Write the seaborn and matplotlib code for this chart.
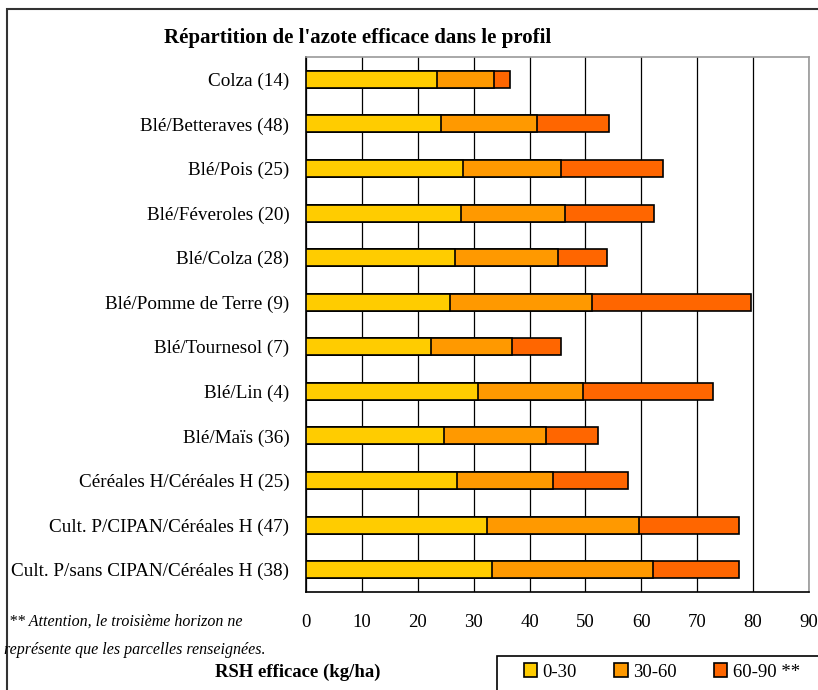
import seaborn as sns
import matplotlib.pyplot as plt
import matplotlib.patches as mpatches
import pandas as pd

cultures = ["Colza (14)", "Blé/Betteraves (48)", "Blé/Pois (25)", "Blé/Féveroles (20)",
            "Blé/Colza (28)", "Blé/Pomme de Terre (9)", "Blé/Tournesol (7)", "Blé/Lin (4)",
            "Blé/Maïs (36)", "Céréales H/Céréales H (25)", "Cult. P/CIPAN/Céréales H (47)",
            "Cult. P/sans CIPAN/Céréales H (38)"]
h0_30 = [23.5, 24.2, 28.1, 27.8, 26.6, 25.7, 22.3, 30.8, 24.7, 27.1, 32.3, 33.2]
h30_60 = [10.1, 17.2, 17.5, 18.5, 18.5, 25.4, 14.5, 18.8, 18.2, 17.1, 27.3, 28.8]
h60_90 = [2.9, 12.8, 18.2, 16.0, 8.7, 28.5, 8.8, 23.3, 9.4, 13.4, 17.9, 15.5]
horizons = ["0-30", "30-60", "60-90 **"]
couleurs = ["#FFCC00", "#FF9900", "#FF6600"]

df = pd.DataFrame({"culture": cultures, "h1": h0_30, "h2": h30_60, "h3": h60_90})
df["c1"] = df["h1"]
df["c2"] = df["h1"] + df["h2"]
df["c3"] = df["c2"] + df["h3"]

sns.set_style("white")
plt.rcParams['font.family'] = ['Liberation Serif', 'DejaVu Serif']
plt.rcParams.update({'text.color': 'black', 'xtick.color': 'black',
                     'ytick.color': 'black', 'axes.labelcolor': 'black'})

fig = plt.figure(figsize=(8.18, 6.9), dpi=100)
ax = fig.add_axes([306/818, 98/690, 503/818, 535/690])

# stacked bars: draw the cumulative totals, largest first
for col, c in zip(["c3", "c2", "c1"], couleurs[::-1]):
    sns.barplot(data=df, x=col, y="culture", color=c, width=0.38,
                edgecolor="black", linewidth=1.2, saturation=1, ax=ax, zorder=3)

ax.set_xlim(0, 90)
ax.set_ylim(len(cultures) - 0.5, -0.5)
ax.set_xticks(range(0, 100, 10))
ax.grid(axis="x", color="black", linewidth=0.9)
ax.set_axisbelow(True)
ax.tick_params(axis="x", length=0, pad=16, labelsize=13.5)
ax.tick_params(axis="y", which="major", length=0, pad=12, labelsize=13.8)
ax.set_yticks([i + 0.5 for i in range(len(cultures) - 1)], minor=True)
ax.tick_params(axis="y", which="minor", length=4, width=1, color="black", direction="out")
ax.set_xlabel("")
ax.set_ylabel("")
for s in ["left", "bottom"]:
    ax.spines[s].set_color("black")
    ax.spines[s].set_linewidth(1.2)
for s in ["top", "right"]:
    ax.spines[s].set_color("#999999")
    ax.spines[s].set_linewidth(1.2)

fig.text(358/818, 1 - 38/690, "Répartition de l'azote efficace dans le profil",
         ha="center", va="center", fontsize=15, fontweight="bold")
fig.text(298/818, 1 - 672/690, "RSH efficace (kg/ha)", ha="center", va="center",
         fontsize=13.5, fontweight="bold")
fig.text(9/818, 1 - 622/690, "** Attention, le troisième horizon ne",
         ha="left", va="center", fontsize=11.5, style="italic")
fig.text(4/818, 1 - 650/690, "représente que les parcelles renseignées.",
         ha="left", va="center", fontsize=11.5, style="italic")

# figure frame and legend box
fig.patches.append(mpatches.Rectangle((7/818, -0.02), 1.1, 1 - 9/690 + 0.02,
                                      transform=fig.transFigure, fill=False,
                                      edgecolor="#333333", linewidth=1.5))
fig.patches.append(mpatches.Rectangle((497/818, -0.02), 1.0, 34/690 + 0.02,
                                      transform=fig.transFigure, fill=False,
                                      edgecolor="black", linewidth=1.2))
handles = [mpatches.Patch(facecolor=c, edgecolor="black", linewidth=1.2) for c in couleurs]
fig.legend(handles, horizons, ncol=3, frameon=False, loc="center",
           bbox_to_anchor=(662/818, 1 - 672/690), fontsize=13.5,
           handlelength=0.7, handleheight=0.7, handletextpad=0.3, columnspacing=2.0)

fig.savefig("out.png", dpi=100)
